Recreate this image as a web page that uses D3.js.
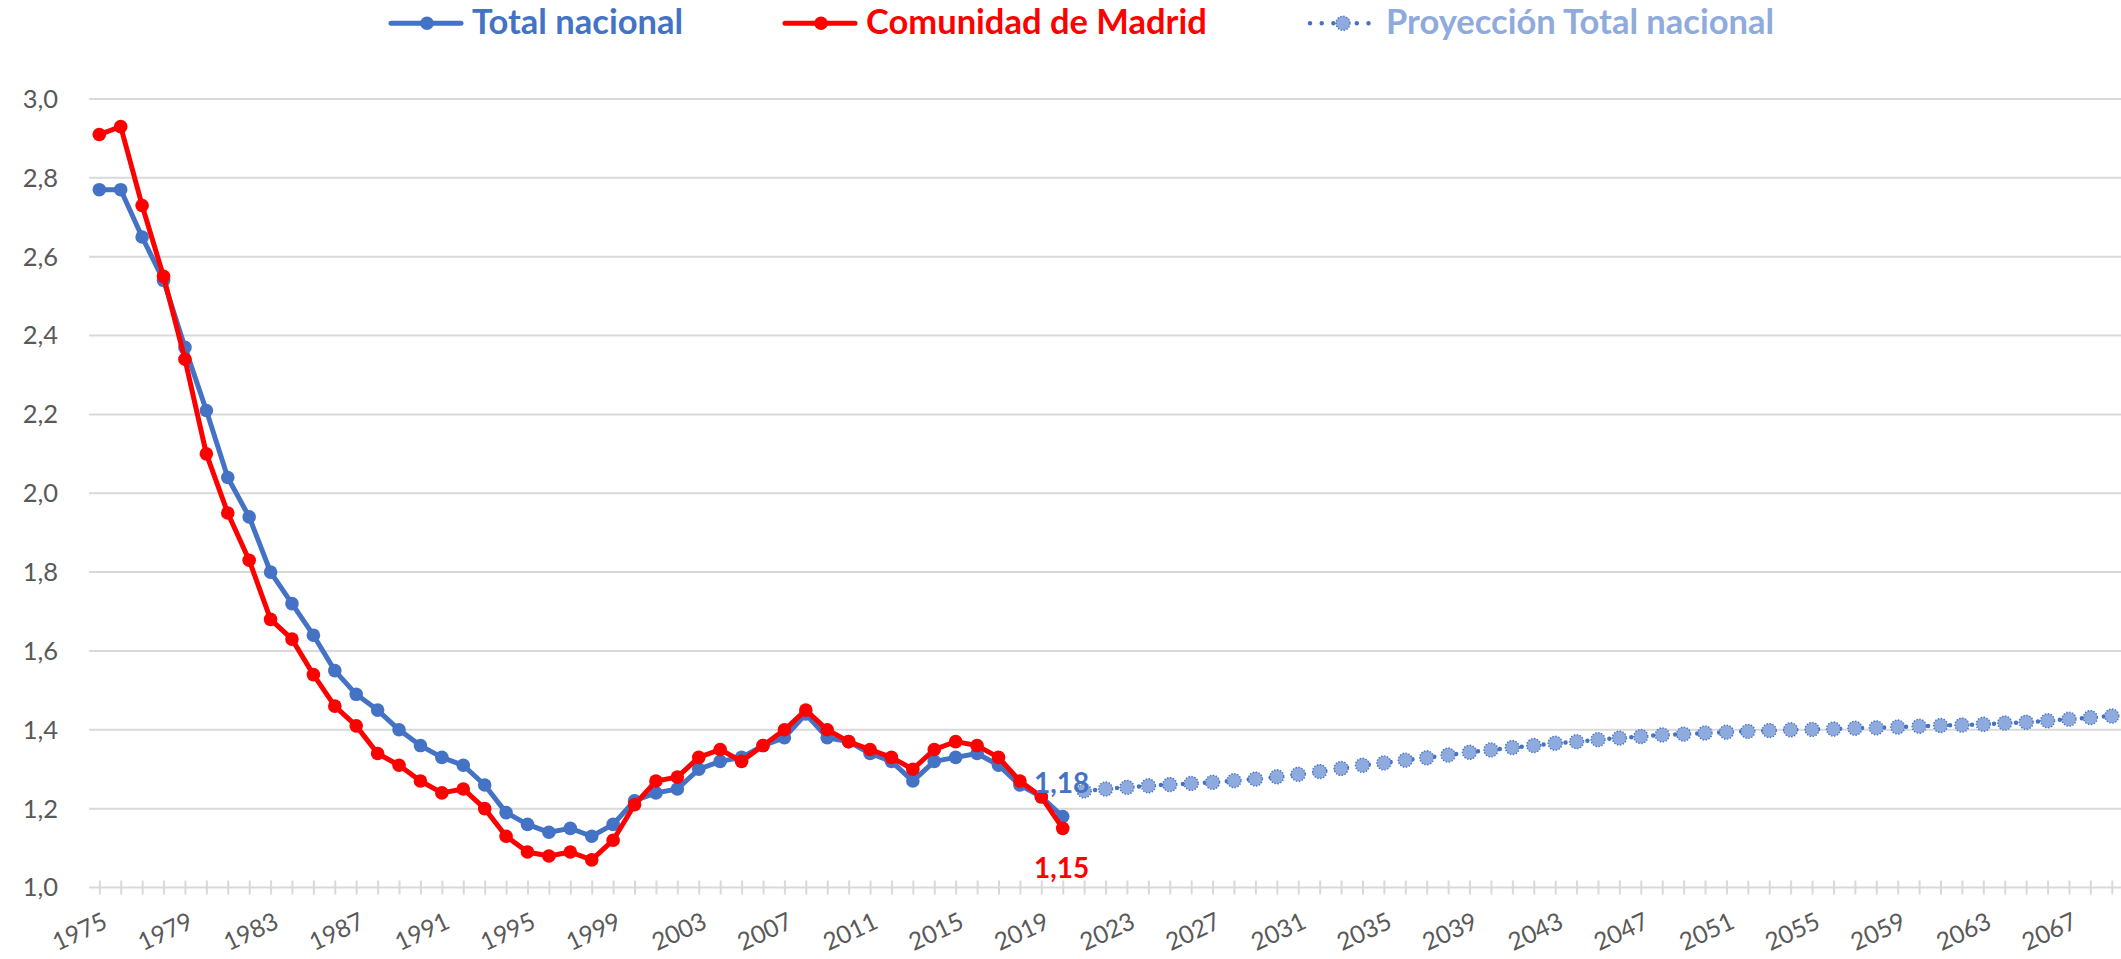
<!DOCTYPE html>
<html>
<head>
<meta charset="utf-8">
<script src="https://cdn.jsdelivr.net/npm/d3@7"></script>
<style>
  html, body { margin: 0; padding: 0; background: #fff; }
  svg { display: block; font-family: Lato, "Open Sans", sans-serif; }
</style>
</head>
<body>
<svg id="chart" width="2121" height="959"></svg>
<script>
// Índice sintético de fecundidad, 1975-2020, y proyección 2021-2069
const firstYear = 1975;
const firstProjectionYear = 2021;

const totalNacional = [2.77, 2.77, 2.65, 2.54, 2.37, 2.21, 2.04, 1.94, 1.80, 1.72,
  1.64, 1.55, 1.49, 1.45, 1.40, 1.36, 1.33, 1.31, 1.26, 1.19,
  1.16, 1.14, 1.15, 1.13, 1.16, 1.22, 1.24, 1.25, 1.30, 1.32,
  1.33, 1.36, 1.38, 1.44, 1.38, 1.37, 1.34, 1.32, 1.27, 1.32,
  1.33, 1.34, 1.31, 1.26, 1.23, 1.18];

const comunidadMadrid = [2.91, 2.93, 2.73, 2.55, 2.34, 2.10, 1.95, 1.83, 1.68, 1.63,
  1.54, 1.46, 1.41, 1.34, 1.31, 1.27, 1.24, 1.25, 1.20, 1.13,
  1.09, 1.08, 1.09, 1.07, 1.12, 1.21, 1.27, 1.28, 1.33, 1.35,
  1.32, 1.36, 1.40, 1.45, 1.40, 1.37, 1.35, 1.33, 1.30, 1.35,
  1.37, 1.36, 1.33, 1.27, 1.23, 1.15];

const proyeccionNacional = [1.245, 1.250, 1.254, 1.258, 1.261, 1.264, 1.267, 1.271, 1.275, 1.281,
  1.287, 1.294, 1.302, 1.310, 1.316, 1.323, 1.329, 1.336, 1.343, 1.349,
  1.355, 1.360, 1.366, 1.370, 1.375, 1.379, 1.383, 1.387, 1.389, 1.392,
  1.394, 1.396, 1.398, 1.400, 1.401, 1.402, 1.404, 1.405, 1.407, 1.409,
  1.411, 1.412, 1.414, 1.417, 1.419, 1.423, 1.427, 1.431, 1.435];

const xTickLabels = ["1975", "1979", "1983", "1987", "1991", "1995", "1999", "2003",
  "2007", "2011", "2015", "2019", "2023", "2027", "2031", "2035", "2039", "2043",
  "2047", "2051", "2055", "2059", "2063", "2067"];
const yTicks = [1.0, 1.2, 1.4, 1.6, 1.8, 2.0, 2.2, 2.4, 2.6, 2.8, 3.0];

const seriesNames = ["Total nacional", "Comunidad de Madrid", "Proyección Total nacional"];

const BLUE = "#4472C4", RED = "#FF0000", LIGHT = "#8FAADC", GRID = "#D9D9D9", TEXT = "#595959";

const toPoints = (vals, start) => vals.map((v, i) => ({ year: start + i, value: v }));
const total = toPoints(totalNacional, firstYear);
const madrid = toPoints(comunidadMadrid, firstYear);
const proj = toPoints(proyeccionNacional, firstProjectionYear);
const allYears = d3.range(firstYear, firstProjectionYear + proyeccionNacional.length);

const svg = d3.select("#chart");
const W = 2121, plotLeft = 89;

const x = d3.scalePoint().domain(allYears).range([99.3, 2111.8]);
const y = d3.scaleLinear().domain([1.0, 3.0]).range([887.5, 99]);

// Gridlines
svg.append("g").selectAll("line").data(yTicks).join("line")
  .attr("x1", plotLeft).attr("x2", W)
  .attr("y1", d => y(d)).attr("y2", d => y(d))
  .attr("stroke", GRID).attr("stroke-width", 2);

// Y axis labels
const fmt = d => d3.format(".1f")(d).replace(".", ",");
svg.append("g").selectAll("text").data(yTicks).join("text")
  .attr("x", 58).attr("y", d => y(d)).attr("dy", "0.35em")
  .attr("text-anchor", "end").attr("fill", TEXT)
  .style("font-size", "25.5px").text(fmt);

// Category axis: tick marks on every year, labels every four years
const xAxis = d3.axisBottom(x).tickSize(0).tickFormat("").tickValues(allYears);
const gx = svg.append("g").attr("transform", `translate(0,${y(1.0)})`).call(xAxis);
gx.select(".domain").remove();
gx.selectAll(".tick line").remove();
gx.selectAll(".tick").append("line")
  .attr("y1", -7).attr("y2", 7).attr("stroke", GRID).attr("stroke-width", 2);

svg.append("g").selectAll("text").data(xTickLabels).join("text")
  .attr("transform", d => `translate(${x(+d) + 6},${y(1.0) + 32}) rotate(-25)`)
  .attr("dy", "0.35em").attr("text-anchor", "end").attr("fill", TEXT)
  .style("font-size", "24.5px").text(d => d);

const line = d3.line().x(d => x(d.year)).y(d => y(d.value));

// Projection: round-dot line with light markers
svg.append("path").datum(proj).attr("d", line)
  .attr("fill", "none").attr("stroke", BLUE).attr("stroke-width", 4.5)
  .attr("stroke-linecap", "round").attr("stroke-dasharray", "0 11");
svg.append("g").selectAll("circle").data(proj).join("circle")
  .attr("cx", d => x(d.year)).attr("cy", d => y(d.value)).attr("r", 7)
  .attr("fill", LIGHT).attr("stroke", BLUE).attr("stroke-width", 1.4)
  .attr("stroke-dasharray", "1.4 1.6");

// Historical series
[[total, BLUE], [madrid, RED]].forEach(([data, color]) => {
  svg.append("path").datum(data).attr("d", line)
    .attr("fill", "none").attr("stroke", color).attr("stroke-width", 5)
    .attr("stroke-linejoin", "round");
  svg.append("g").selectAll("circle").data(data).join("circle")
    .attr("cx", d => x(d.year)).attr("cy", d => y(d.value)).attr("r", 6.8)
    .attr("fill", color);
});

// Value labels on the last observed year
const lastTotal = total[total.length - 1];
const lastMadrid = madrid[madrid.length - 1];
svg.append("text").attr("x", x(lastTotal.year) - 1).attr("y", y(lastTotal.value) - 24)
  .attr("text-anchor", "middle").attr("fill", BLUE)
  .style("font-size", "28px").style("font-weight", 700)
  .text(d3.format(".2f")(lastTotal.value).replace(".", ","));
svg.append("text").attr("x", x(lastMadrid.year) - 1).attr("y", y(lastMadrid.value) + 50)
  .attr("text-anchor", "middle").attr("fill", RED)
  .style("font-size", "28px").style("font-weight", 700)
  .text(d3.format(".2f")(lastMadrid.value).replace(".", ","));

// Legend
const legend = svg.append("g");
const legY = 23.3;
function legendSolid(x0, color, label) {
  legend.append("line").attr("x1", x0).attr("x2", x0 + 70).attr("y1", legY).attr("y2", legY)
    .attr("stroke", color).attr("stroke-width", 5).attr("stroke-linecap", "round");
  legend.append("circle").attr("cx", x0 + 36).attr("cy", legY).attr("r", 6.8).attr("fill", color);
  legend.append("text").attr("x", x0 + 81).attr("y", 33.5).attr("fill", color)
    .style("font-size", "34.5px").style("font-weight", 700).text(label);
}
legendSolid(391, BLUE, seriesNames[0]);
legendSolid(785, RED, seriesNames[1]);
legend.append("line").attr("x1", 1310).attr("x2", 1372).attr("y1", legY).attr("y2", legY)
  .attr("stroke", BLUE).attr("stroke-width", 4.5).attr("stroke-linecap", "round")
  .attr("stroke-dasharray", "0 11.7");
legend.append("circle").attr("cx", 1343).attr("cy", legY).attr("r", 7)
  .attr("fill", LIGHT).attr("stroke", BLUE).attr("stroke-width", 1.4).attr("stroke-dasharray", "1.4 1.6");
legend.append("text").attr("x", 1386).attr("y", 33.5).attr("fill", LIGHT)
  .style("font-size", "34.5px").style("font-weight", 700).text(seriesNames[2]);
</script>
</body>
</html>
